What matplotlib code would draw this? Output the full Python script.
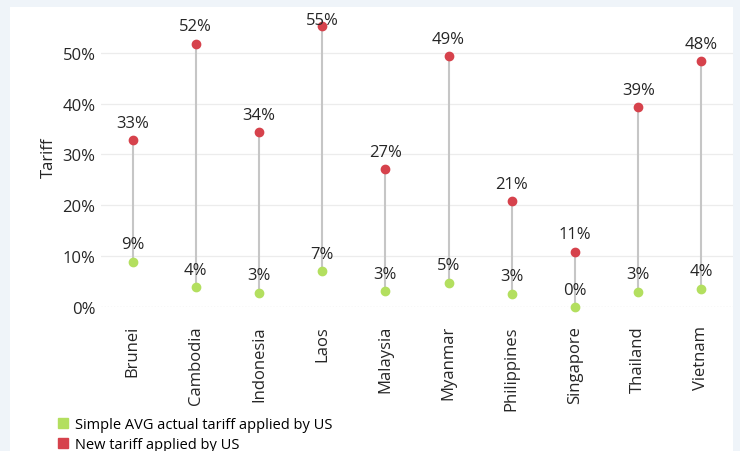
import matplotlib
matplotlib.use("Agg")
import matplotlib.pyplot as plt
from matplotlib.patches import Rectangle
from matplotlib.lines import Line2D
from matplotlib.ticker import PercentFormatter

# data
countries = ["Brunei", "Cambodia", "Indonesia", "Laos", "Malaysia",
             "Myanmar", "Philippines", "Singapore", "Thailand", "Vietnam"]
actual_tariff = [8.9, 3.9, 2.8, 7.1, 3.1, 4.8, 2.6, 0.0, 3.0, 3.6]
new_tariff = [32.8, 51.8, 34.4, 55.3, 27.1, 49.3, 20.8, 10.9, 39.3, 48.3]

GREEN = "#b3df5f"
RED = "#d6424c"
plt.rcParams['font.family'] = ['Open Sans', 'DejaVu Sans']

fig = plt.figure(figsize=(7.4, 4.52), dpi=100)
fig.patch.set_facecolor("#eff4f9")
# white panel behind everything
fig.patches.append(Rectangle((10/740, 0), 723/740, 1 - 8/452,
                             transform=fig.transFigure, facecolor="white",
                             edgecolor="none", zorder=-5))

ax = fig.add_axes([101/740, 1 - 308/452, 632/740, 300/452])
ax.set_zorder(2)
ax.set_facecolor("none")
x = list(range(len(countries)))
ymax = 59

for i in x:
    ax.plot([i, i], [actual_tariff[i], new_tariff[i]], color="#c6c6c6",
            lw=1.5, zorder=2)
ax.scatter(x, actual_tariff, s=36, color=GREEN, zorder=3, clip_on=False)
ax.scatter(x, new_tariff, s=36, color=RED, zorder=3, clip_on=False)

# labels above points, kept inside the panel
for series in (actual_tariff, new_tariff):
    for i, v in zip(x, series):
        yl = min(v + 3.4, ymax - 2.6)
        ax.text(i, yl, f"{round(v):d}%", ha="center", va="center",
                fontsize=12, color="#262626", zorder=4)

ax.set_xlim(-0.5, len(countries) - 0.5)
ax.set_ylim(0, ymax)
ax.set_yticks([0, 10, 20, 30, 40, 50])
ax.yaxis.set_major_formatter(PercentFormatter(decimals=0))
ax.set_xticks(x)
ax.set_xticklabels(countries, rotation=90, fontsize=12, color="#262626")
ax.tick_params(axis="y", length=0, labelsize=12, labelcolor="#262626", pad=4)
ax.tick_params(axis="x", length=0, pad=13)
for s in ax.spines.values():
    s.set_visible(False)
for t in [10, 20, 30, 40, 50]:
    ax.axhline(t, color="#ececec", lw=0.9, zorder=1)
ax.axhline(0, color="#cfcfcf", lw=0.9, ls=(0, (1, 1.5)), zorder=1)
ax.set_ylabel("Tariff", fontsize=12, color="#262626", labelpad=4)

handles = [Line2D([], [], marker="s", ls="none", color=GREEN, markersize=7),
           Line2D([], [], marker="s", ls="none", color=RED, markersize=7)]
fig.legend(handles, ["Simple AVG actual tariff applied by US",
                     "New tariff applied by US"],
           loc="upper left", bbox_to_anchor=(50/740, 1 - 412/452),
           frameon=False, fontsize=10.5, handletextpad=0.3,
           labelspacing=0.35, handlelength=1.0, borderaxespad=0)

fig.savefig("out.png", dpi=100, facecolor=fig.get_facecolor())
